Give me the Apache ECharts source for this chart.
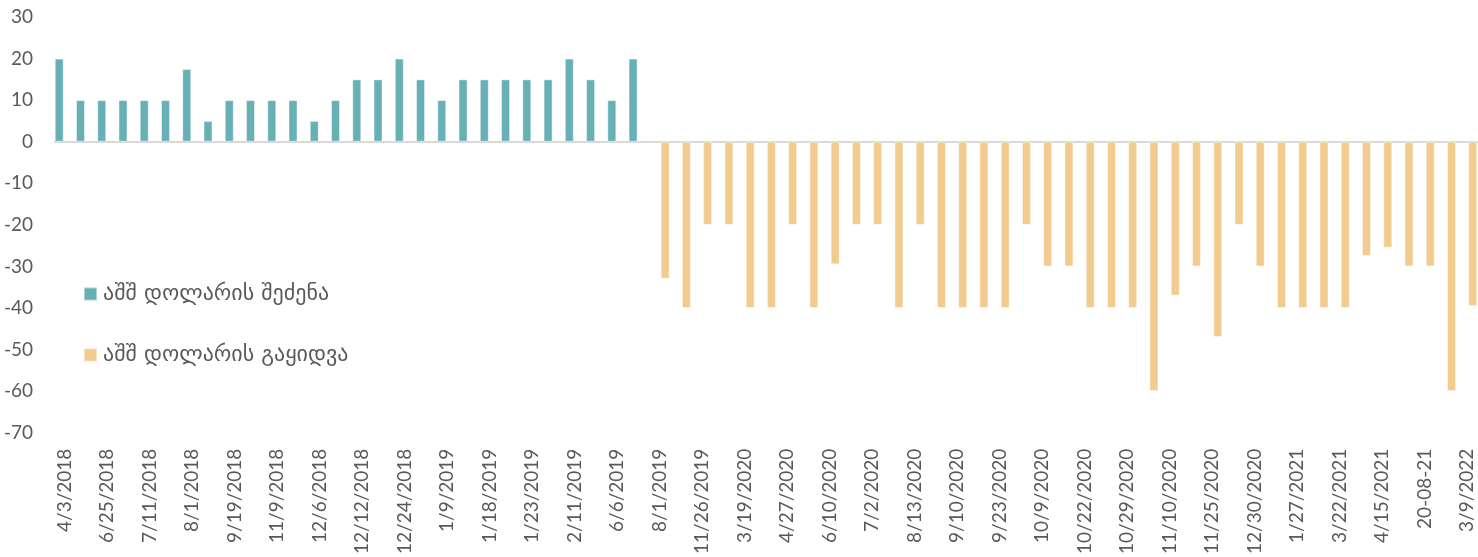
<!DOCTYPE html>
<html>
<head>
<meta charset="utf-8">
<script src="https://cdn.jsdelivr.net/npm/echarts@6/dist/echarts.min.js"></script>
<style>
  html, body { margin: 0; padding: 0; background: #ffffff; }
  #chart { width: 1478px; height: 557px; }
</style>
</head>
<body>
<div id="chart"></div>
<script>
// Dates shown on the category axis (every second category carries a label)
const tickLabels = [
  '4/3/2018', '6/25/2018', '7/11/2018', '8/1/2018', '9/19/2018', '11/9/2018',
  '12/6/2018', '12/12/2018', '12/24/2018', '1/9/2019', '1/18/2019', '1/23/2019',
  '2/11/2019', '6/6/2019', '8/1/2019', '11/26/2019', '3/19/2020', '4/27/2020',
  '6/10/2020', '7/2/2020', '8/13/2020', '9/10/2020', '9/23/2020', '10/9/2020',
  '10/22/2020', '10/29/2020', '11/10/2020', '11/25/2020', '12/30/2020', '1/27/2021',
  '3/22/2021', '4/15/2021', '20-08-21', '3/9/2022'
];

// USD purchases (first 28 interventions)
const buyValues = [
  20, 10, 10, 10, 10, 10, 17.5, 5, 10, 10, 10, 10, 5, 10,
  15, 15, 20, 15, 10, 15, 15, 15, 15, 15, 20, 15, 10, 20
];

// USD sales (following 39 interventions)
const sellValues = [
  -33, -40, -20, -20, -40, -40, -20, -40, -29.5, -20, -20, -40, -20,
  -40, -40, -40, -40, -20, -30, -30, -40, -40, -40, -60, -37, -30,
  -47, -20, -30, -40, -40, -40, -40, -27.5, -25.5, -30, -30, -60, -39.5
];

const seriesNames = ['აშშ დოლარის შეძენა', 'აშშ დოლარის გაყიდვა'];

// Category axis: labelled date followed by an unlabelled intervention
const total = buyValues.length + sellValues.length;
const categories = [];
for (let i = 0; i < total; i++) {
  categories.push(i % 2 === 0 ? (tickLabels[i / 2] || '') : '');
}
const buyData = categories.map((_, i) => i < buyValues.length ? buyValues[i] : null);
const sellData = categories.map((_, i) => i >= buyValues.length ? sellValues[i - buyValues.length] : null);

const labelFont = 'Lato, "DejaVu Sans", sans-serif';
const textColor = '#595959';

const chart = echarts.init(document.getElementById('chart'), null, { renderer: 'canvas' });
chart.setOption({
  animation: false,
  backgroundColor: '#ffffff',
  grid: { left: 54, right: -5, top: 17, bottom: 120, containLabel: false },
  legend: {
    orient: 'vertical',
    left: 83,
    top: 283,
    padding: 0,
    icon: 'rect',
    itemWidth: 13,
    itemHeight: 13,
    itemGap: 39,
    textStyle: { color: textColor, fontSize: 22, fontFamily: '"DejaVu Sans", sans-serif', padding: [0, 0, 0, 1] },
    data: seriesNames
  },
  xAxis: {
    type: 'category',
    data: categories,
    axisLine: { show: false, onZero: false },
    axisTick: { show: false },
    axisLabel: {
      interval: 0,
      rotate: 90,
      margin: 16,
      color: textColor,
      fontSize: 19,
      fontFamily: labelFont
    }
  },
  yAxis: {
    type: 'value',
    min: -70,
    max: 30,
    interval: 10,
    axisLine: { show: false },
    axisTick: { show: false },
    splitLine: { show: false },
    axisLabel: { color: textColor, fontSize: 19, fontFamily: labelFont, margin: 21 }
  },
  series: [
    {
      name: seriesNames[0],
      type: 'bar',
      data: buyData,
      barWidth: 9,
      barGap: '20%',
      itemStyle: { color: '#67b0b5', borderColor: 'rgba(255,255,255,0.45)', borderWidth: 1 },
      markLine: {
        silent: true,
        symbol: 'none',
        label: { show: false },
        lineStyle: { color: '#d9d9d9', width: 2, type: 'solid' },
        data: [{ yAxis: 0 }],
        z: 1
      }
    },
    {
      name: seriesNames[1],
      type: 'bar',
      data: sellData,
      barWidth: 9,
      barGap: '20%',
      itemStyle: { color: '#f2cc8f', borderColor: 'rgba(255,255,255,0.45)', borderWidth: 1 }
    }
  ]
});
</script>
</body>
</html>
